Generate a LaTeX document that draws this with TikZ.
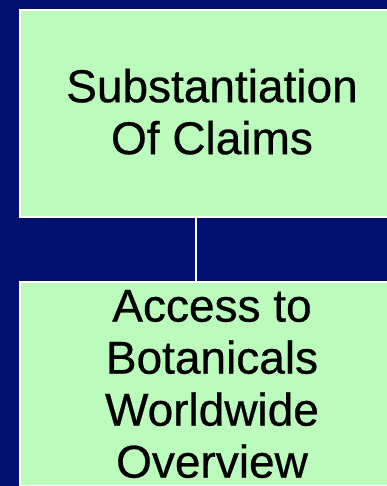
\documentclass[tikz,border=0pt]{standalone}
\usepackage{fontspec}
\setmainfont{Liberation Sans}
\definecolor{navy}{RGB}{2,16,114}
\definecolor{leaf}{RGB}{187,251,187}
\tikzset{
	claimbox/.style={draw=white,line width=1.6pt,fill=leaf,align=center,inner sep=0pt,
		minimum width=384pt,font=\fontsize{46}{52}\selectfont\addfontfeature{FakeBold=0.6}}
}
\begin{document}
\begin{tikzpicture}[x=1pt,y=-1pt]
	\fill[navy] (0,0) rectangle (387,486);
	\useasboundingbox (0,0) rectangle (387,486);
	\clip (0,0) rectangle (387,486);
	\node[claimbox,minimum height=207pt,text depth=4pt] (claims) at (212,113.5) {Substantiation\\Of Claims};
	\node[claimbox,minimum height=204pt] (access) at (212,384) {Access to\\Botanicals\\Worldwide\\ Overview};
	\coordinate (link) at (196,0);
	\draw[white,line width=1.4pt] (claims.south -| link) -- (access.north -| link);
\end{tikzpicture}
\end{document}
